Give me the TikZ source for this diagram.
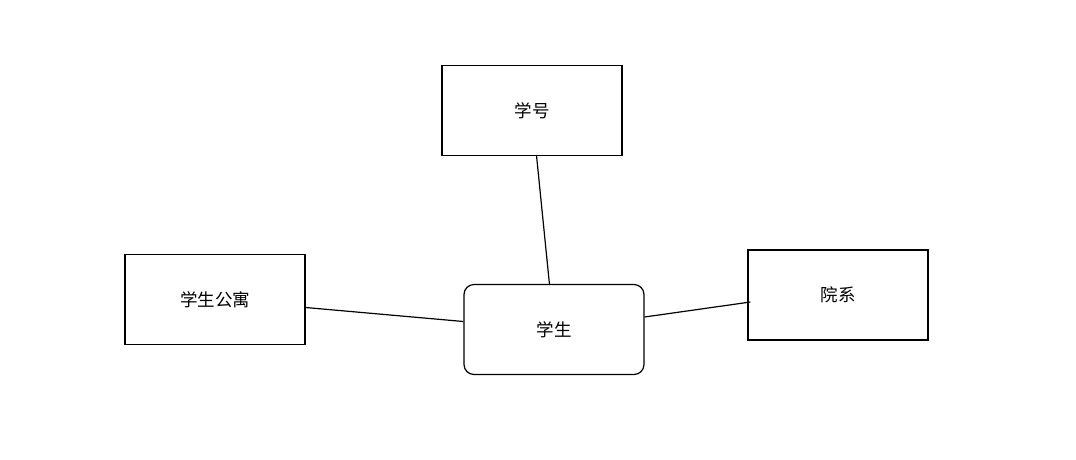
\documentclass[tikz,border=0pt]{standalone}
\usepackage{fontspec}
\newfontfamily\cjk{Noto Sans CJK SC}
\usetikzlibrary{calc}
\begin{document}
\begin{tikzpicture}[x=1pt,y=-1pt,
  box/.style={draw=black,line width=1.2pt,minimum width=180pt,minimum height=90pt,inner sep=0pt,font=\cjk\fontsize{17.5}{19}\selectfont},
  rbox/.style={box,rounded corners=10pt},
  link/.style={draw=black,line width=1.2pt}]
\useasboundingbox[fill=white] (0,0) rectangle (1076,459);
\node[box] (xh) at (532,110.5) {学号};
\node[box] (gy) at (215,299.5) {学生公寓};
\node[rbox] (xs) at (554,329.5) {学生};
\node[box] (yx) at (838,295) {院系};
\draw[link] (xh) -- (xs);
\draw[link] (gy) -- (xs);
\draw[link] ($(xs.east)+(0,-12.5)$) -- ($(yx.west)+(3,7)$);
\end{tikzpicture}
\end{document}
